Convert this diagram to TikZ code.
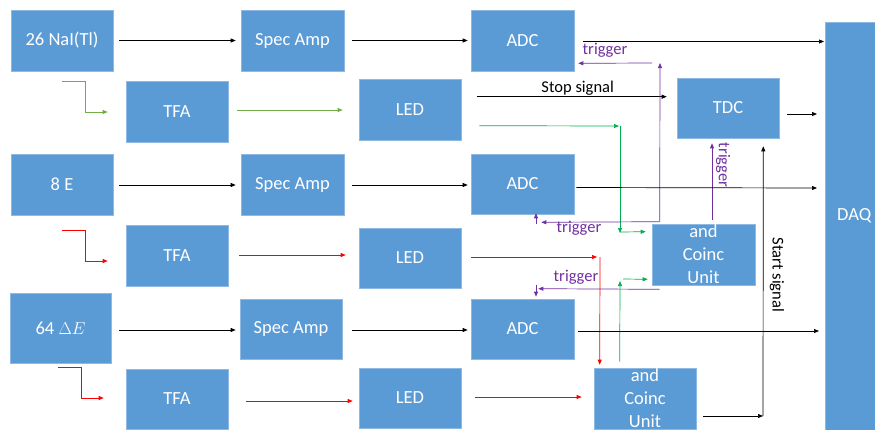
\documentclass[tikz,border=0pt]{standalone}
\usepackage{fontspec}
\setmainfont{Carlito}
\usetikzlibrary{arrows.meta,calc}
\definecolor{boxblue}{HTML}{5B9BD5}
\definecolor{boxedge}{HTML}{8DB9E2}
\definecolor{pur}{HTML}{7030A0}
\definecolor{gl}{HTML}{70AD47}
\definecolor{gd}{HTML}{00B050}
\definecolor{rd}{HTML}{FF0000}
\begin{document}
\begin{tikzpicture}[x=1pt,y=-1pt,
  blk/.style={fill=boxblue,draw=boxedge,line width=0.6pt,text=white,inner sep=0pt,align=center,
    minimum width=102,minimum height=61,font=\fontsize{18.5}{23}\selectfont},
  ar/.style={-{Triangle[length=5pt,width=4pt]},line width=0.7pt},
  lbl/.style={font=\fontsize{16.5}{18}\selectfont,inner sep=0pt}]
\useasboundingbox (0,0) rectangle (875,429);
\clip (0,0) rectangle (875,429);

% boxes
\node[blk] (nai) at (62,40.5) {26 NaI(Tl)};
\node[blk,minimum width=103] (sa1) at (292.5,40.5) {Spec Amp};
\node[blk,minimum width=103] (adc1) at (522.5,40.5) {ADC};
\node[blk] (tfa1) at (177,111.5) {TFA};
\node[blk] (led1) at (410,109.5) {LED};
\node[blk,minimum height=60] (tdc) at (728,108) {TDC};
\node[blk] (e8) at (62,184.5) {8 E};
\node[blk,minimum width=103] (sa2) at (292.5,184.5) {Spec Amp};
\node[blk,minimum width=103,minimum height=60] (adc2) at (522.5,184) {ADC};
\node[blk] (tfa2) at (177,255.5) {TFA};
\node[blk,minimum height=60] (led2) at (410,258) {LED};
\node[blk,minimum width=103] (cu1) at (703.5,254.5) {and\\Coinc\\Unit};
\node[blk,minimum width=101,minimum height=70] (de) at (60.5,328) {64 $\Delta E$};
\node[blk,minimum height=60] (sa3) at (291,329) {Spec Amp};
\node[blk,minimum width=103,minimum height=60] (adc3) at (522.5,329) {ADC};
\node[blk,minimum height=60] (tfa3) at (177,399) {TFA};
\node[blk,minimum height=60] (led3) at (410,398) {LED};
\node[blk] (cu2) at (645,398.5) {and\\Coinc\\Unit};
\node[fill=boxblue,draw=boxedge,line width=0.6pt,inner sep=0pt,minimum width=80,minimum height=430,anchor=north west] (daq) at (825,22) {};
\node[text=white,anchor=west,inner sep=0pt,font=\fontsize{18.5}{23}\selectfont] (daqt) at (837,216) {DAQ};

% row 1
\draw[ar] ($(nai.east)+(6,0)$) -- ($(sa1.west)+(-5,0)$);
\draw[ar] ($(sa1.east)+(8,0)$) -- ($(adc1.west)+(-3,0)$);
\draw[ar] ($(adc1.east)+(9,1)$) -- ($(adc1.east -| daq.west)+(-1,1)$);
\draw[ar,gl] ($(nai.south)+(0,10)$) -- ++(23,0) |- ($(tfa1.west)+(-18,0.5)$);
\draw[ar,gl] ($(tfa1.east)+(9,-1.5)$) -- ($(tfa1.east -| led1.west)+(-16,-1.5)$);
\draw[ar] ($(led1.north east)+(16,18)$) -- node[lbl,above=1.5pt,pos=0.53]{Stop signal} ($(tdc.north west)+(-10,19)$);
\coordinate (g1) at (620,126);
\draw[ar,gd] ($(led1.north east)+(18,47)$) -- ($(g1)+(-1,0)$);
\draw[ar,gd] (g1) -- (620,233);
\draw[ar,gd] (620,232) -- ($(cu1.north west)+(-6,8)$);
\draw[ar] ($(tdc.east)+(8,6)$) -- ($(tdc.east -| daq.west)+(-8,6)$);

% triggers
\coordinate (p1) at (660,63);
\draw[ar,pur] ($(cu1.north west)+(8,-2)$) -- (p1);
\draw[ar,pur] ($(p1)+(-8,0)$) -- ($(adc1.south east)+(4,-8)$);
\node[lbl,text=pur] (t1) at (605,50) {trigger};
\draw[ar,pur] ($(cu1.north west)+(8,-2)$) -- ($(adc2.south east)+(-33,8)$);
\draw[ar,pur] ($(adc2.south)+(13.5,10)$) -- ($(adc2.south)+(13.5,-1)$);
\node[lbl,text=pur] (t2) at (579,228) {trigger};
\draw[ar,pur] ($(cu1.south west)+(8,4)$) -- ($(adc3.north east)+(-36,-10)$);
\draw[ar,pur] ($(adc3.north)+(13.5,-14)$) -- ($(adc3.north)+(13.5,-2)$);
\node[lbl,text=pur] (t3) at (576,277) {trigger};
\draw[ar,pur] ($(cu1.north)+(8.5,-4)$) -- ($(tdc.south)+(-16,5)$);
\node[lbl,text=pur,rotate=-90] (t4) at (723,165) {trigger};

% row 2
\draw[ar] ($(e8.east)+(6,0.5)$) -- ($(sa2.west)+(-5,0.5)$);
\draw[ar] ($(sa2.east)+(8,0.5)$) -- ($(adc2.west)+(-3,1)$);
\draw[ar] ($(adc2.east)+(2,3.5)$) -- ($(adc2.east -| daq.west)+(-8,4)$);
\draw[ar,rd] ($(e8.south)+(0,15)$) -- ++(23,0) |- ($(tfa2.west)+(-18,5.5)$);
\draw[ar,rd] ($(tfa2.east)+(11,-0.5)$) -- ($(tfa2.east -| led2.west)+(-13,-0.5)$);
\coordinate (r1) at (600,257);
\draw[ar,rd] ($(led2.east)+(10,-1)$) -- ($(r1)+(-3,0)$);
\draw[ar,rd] (r1) -- ($(cu2.north west)+(6,-3)$);
\coordinate (g2) at (620,281);
\draw[ar,gd] ($(cu2.north west)+(26,-6)$) -- (g2);
\draw[ar,gd] ($(g2)+(3,-2)$) -- ($(cu1.south west)+(-4,-6)$);

% row 3
\draw[ar] ($(de.east)+(8,2)$) -- ($(sa3.west)+(-4,1)$);
\draw[ar] ($(sa3.east)+(10,1)$) -- ($(adc3.west)+(-3,1)$);
\draw[ar] ($(adc3.east)+(4,2)$) -- ($(adc3.east -| daq.west)+(-6,2)$);
\draw[ar,rd] ($(de.south)+(-2.5,4)$) -- ++(23,0) |- ($(tfa3.west)+(-22,-1)$);
\draw[ar,rd] ($(tfa3.east)+(18,2)$) -- ($(tfa3.east -| led3.west)+(-6,2)$);
\draw[ar,rd] ($(led3.east)+(14,-1)$) -- ($(led3.east -| cu2.west)+(-12,-1)$);
\coordinate (s1) at (763,416);
\draw[ar] ($(cu2.east)+(7,17.5)$) -- (s1);
\draw[ar] (s1) -- ($(tdc.south east)+(-16,8)$);
\node[lbl,rotate=-90] (st) at (777,275) {Start signal};
\end{tikzpicture}
\end{document}
